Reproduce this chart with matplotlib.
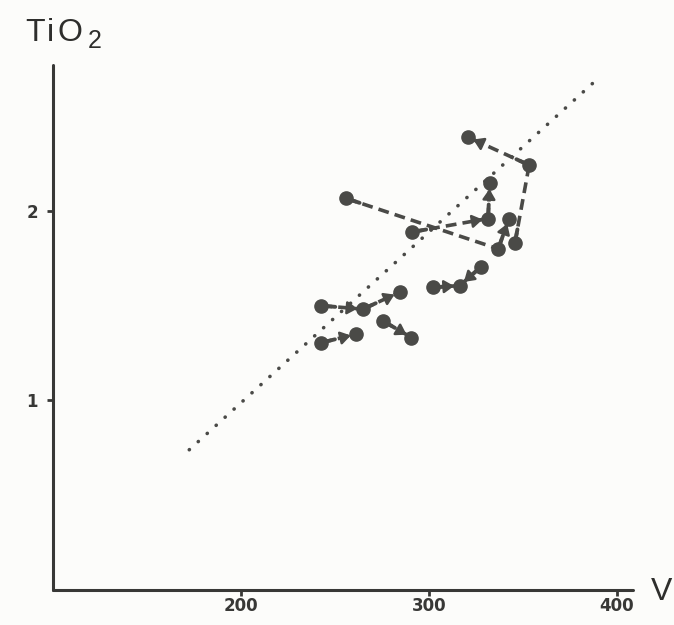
import matplotlib
matplotlib.use("Agg")
import matplotlib.pyplot as plt
import numpy as np

# Sample positions (V in ppm, TiO2 in wt%)
v = [256.0, 291.2, 331.5, 332.4, 342.7, 336.9, 345.8, 353.4, 320.9, 327.5,
     302.2, 316.4, 284.4, 264.9, 242.7, 275.5, 290.7, 242.7, 261.3]
tio2 = [2.066, 1.889, 1.960, 2.145, 1.960, 1.800, 1.830, 2.242, 2.389, 1.703,
        1.597, 1.606, 1.571, 1.482, 1.500, 1.420, 1.332, 1.305, 1.350]

# Evolution paths between samples: (from, to, arrowhead)
links = [(17, 18, True), (15, 16, True), (14, 13, True), (13, 12, True),
         (10, 11, True), (9, 11, True), (0, 5, False), (1, 2, True),
         (2, 3, True), (6, 7, False), (7, 8, True), (5, 4, True)]

# Trend line end points
trend_v = [172.4, 388.4]
trend_tio2 = [0.740, 2.684]

xticks = [200, 300, 400]
yticks = [1, 2]

ink = "#4a4a47"
axis_ink = "#383836"

fig = plt.figure(figsize=(6.74, 6.25), dpi=100)
fig.patch.set_facecolor("#fcfcfa")
ax = fig.add_axes([0.0791, 0.056, 0.8601, 0.840])
ax.set_facecolor("none")
ax.set_xlim(100, 408.7)
ax.set_ylim(0, 2.77)

for side in ("top", "right"):
    ax.spines[side].set_visible(False)
for side in ("left", "bottom"):
    ax.spines[side].set_linewidth(2.2)
    ax.spines[side].set_color(axis_ink)
    ax.spines[side].set_capstyle("round")

ax.set_xticks(xticks)
ax.set_yticks(yticks)
ax.set_xticklabels([str(t) for t in xticks], fontsize=12, fontweight="bold",
                   color=axis_ink, family="DejaVu Sans")
ax.set_yticklabels([str(t) for t in yticks], fontsize=12, fontweight="bold",
                   color=axis_ink, family="DejaVu Sans")
ax.tick_params(axis="x", direction="out", length=4, width=2, color=axis_ink, pad=1)
ax.tick_params(axis="y", direction="out", length=4, width=2, color=axis_ink, pad=7)

# Dotted trend line
ax.plot(trend_v, trend_tio2, linestyle=(0, (0.05, 3.3)), lw=2.6, color=ink,
        dash_capstyle="round", zorder=2)

# Dashed paths with a solid tail at the start and an arrowhead at the end
T = ax.transData
for i, j, head in links:
    ax.plot([v[i], v[j]], [tio2[i], tio2[j]], linestyle=(0, (3.0, 1.7)), lw=2.6,
            color=ink, dash_capstyle="butt", zorder=3)
    p = T.transform((v[i], tio2[i]))
    q = T.transform((v[j], tio2[j]))
    d = (q - p) / np.hypot(*(q - p))
    tail = d * 14 * 0.72
    ax.annotate("", xy=(v[i], tio2[i]), xytext=(tail[0], tail[1]),
                textcoords="offset points",
                arrowprops=dict(arrowstyle="-", color=ink, lw=2.8,
                                shrinkA=0, shrinkB=0), zorder=3)
    if head:
        back = -d * 13 * 0.72
        ax.annotate("", xy=(v[j], tio2[j]), xytext=(back[0], back[1]),
                    textcoords="offset points",
                    arrowprops=dict(arrowstyle="-|>,head_length=0.5,head_width=0.32",
                                    color=ink, lw=1.8, shrinkA=0, shrinkB=4,
                                    mutation_scale=12),
                    zorder=4)

# Sample points
ax.plot(v, tio2, "o", ms=9.5, color=ink, zorder=5)

# Axis titles
title_kw = dict(color="#2e2e2c", family="Liberation Sans", va="baseline", ha="left")
W, H = 674, 625
fig.text(25 / W, 1 - 41 / H, "T", fontsize=23, **title_kw)
fig.text(47 / W, 1 - 41 / H, "i", fontsize=23, **title_kw)
fig.text(57 / W, 1 - 41 / H, "O", fontsize=23, **title_kw)
fig.text(88 / W, 1 - 48 / H, "2", fontsize=18, **title_kw)
fig.text(651 / W, 1 - 600 / H, "V", fontsize=23, **title_kw)

fig.savefig("out.png", dpi=100, facecolor=fig.get_facecolor())
